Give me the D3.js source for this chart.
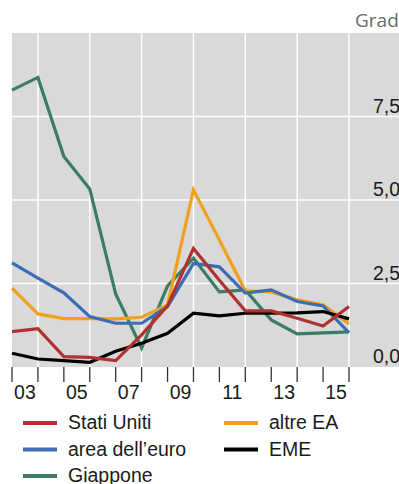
<!DOCTYPE html>
<html><head><meta charset="utf-8">
<script src="https://cdn.jsdelivr.net/npm/d3@7"></script>
<style>
html,body{margin:0;padding:0;background:#fff;overflow:hidden;}
svg{display:block;font-family:"Liberation Sans",Arial,sans-serif;}
</style></head>
<body>
<svg id="chart" width="399" height="484"></svg>
<script>
const years = [2003,2004,2005,2006,2007,2008,2009,2010,2011,2012,2013,2014,2015,2016];
const xTickLabels = ["03","05","07","09","11","13","15"];
const yTicks = [0, 2.5, 5, 7.5];
const statiUniti = [1.06,1.15,0.31,0.29,0.19,0.96,1.83,3.55,2.60,1.68,1.68,1.46,1.23,1.81];
const areaEuro   = [3.12,2.66,2.22,1.51,1.31,1.31,1.81,3.10,3.00,2.21,2.31,1.96,1.83,1.03];
const giappone   = [8.29,8.67,6.30,5.33,2.19,0.57,2.43,3.26,2.25,2.31,1.41,0.99,1.02,1.05];
const altreEA    = [2.36,1.59,1.45,1.45,1.44,1.49,1.86,5.30,3.80,2.28,2.25,2.01,1.86,1.29];
const eme        = [0.41,0.24,0.19,0.14,0.47,0.71,1.01,1.61,1.53,1.61,1.61,1.62,1.66,1.44];
const seriesNames = ["Stati Uniti","area dell\u2019euro","Giappone","altre EA","EME"];
const seriesColors = ["#b1312f","#3b6db4","#3b7d63","#efa11f","#000000"];

const svg = d3.select("#chart");
const L = 12, R = 399, T = 33, B = 367;
const x = d3.scaleLinear().domain([2003, 2016]).range([L, 349]);
const y = d3.scaleLinear().domain([0, 10]).range([B, T]);

svg.append("rect").attr("x", L).attr("y", T).attr("width", R - L).attr("height", B - T).attr("fill", "#d9d9d9");

// gridlines
svg.append("g").selectAll("line").data(yTicks.filter(d => d > 0)).join("line")
  .attr("x1", L).attr("x2", R).attr("y1", d => y(d)).attr("y2", d => y(d))
  .attr("stroke", "#fff").attr("stroke-width", 1.5);
svg.append("g").selectAll("line").data(years.filter((d, i) => i % 2 === 1)).join("line")
  .attr("x1", d => x(d)).attr("x2", d => x(d)).attr("y1", T).attr("y2", B)
  .attr("stroke", "#fff").attr("stroke-width", 1.5);

// x axis ticks
svg.append("g").selectAll("line").data(years).join("line")
  .attr("x1", d => x(d)).attr("x2", d => x(d)).attr("y1", B).attr("y2", B + 15)
  .attr("stroke", "#333").attr("stroke-width", 1.3);
svg.append("g").selectAll("text").data(xTickLabels).join("text")
  .attr("x", (d, i) => x(2003 + 2 * i + 0.5)).attr("y", 399)
  .attr("text-anchor", "middle").attr("font-size", 19.5).attr("fill", "#1a1a1a")
  .text(d => d);

// y labels (right)
svg.append("g").selectAll("text").data(yTicks).join("text")
  .attr("x", 373).attr("y", d => y(d) - 4)
  .attr("font-size", 19.5).attr("fill", "#1a1a1a")
  .text(d => d3.format(".1f")(d).replace(".", ","));
svg.append("text").attr("x", 355).attr("y", 27).attr("font-size", 19)
  .attr("font-family", "'Open Sans','Noto Sans',sans-serif").attr("fill", "#6b6b6b").text("Gradi");

// lines
const line = d3.line().x((d, i) => x(years[i])).y(d => y(d));
const allSeries = [statiUniti, areaEuro, giappone, altreEA, eme];
const drawOrder = [2, 3, 1, 4, 0];
drawOrder.forEach(k => {
  svg.append("path").datum(allSeries[k]).attr("d", line)
    .attr("fill", "none").attr("stroke", seriesColors[k]).attr("stroke-width", 3.2)
    .attr("stroke-linejoin", "miter");
});

// legend
const legendPos = [[23, 423], [23, 449.5], [23, 476], [224, 423], [224, 449.5]];
seriesNames.forEach((n, i) => {
  const [lx, ly] = legendPos[i];
  svg.append("line").attr("x1", lx).attr("x2", lx + 34).attr("y1", ly).attr("y2", ly)
    .attr("stroke", seriesColors[i]).attr("stroke-width", 4);
  svg.append("text").attr("x", lx + 45).attr("y", ly + 6).attr("font-size", 19.5)
    .attr("fill", "#1a1a1a").text(n);
});
</script>
</body></html>
